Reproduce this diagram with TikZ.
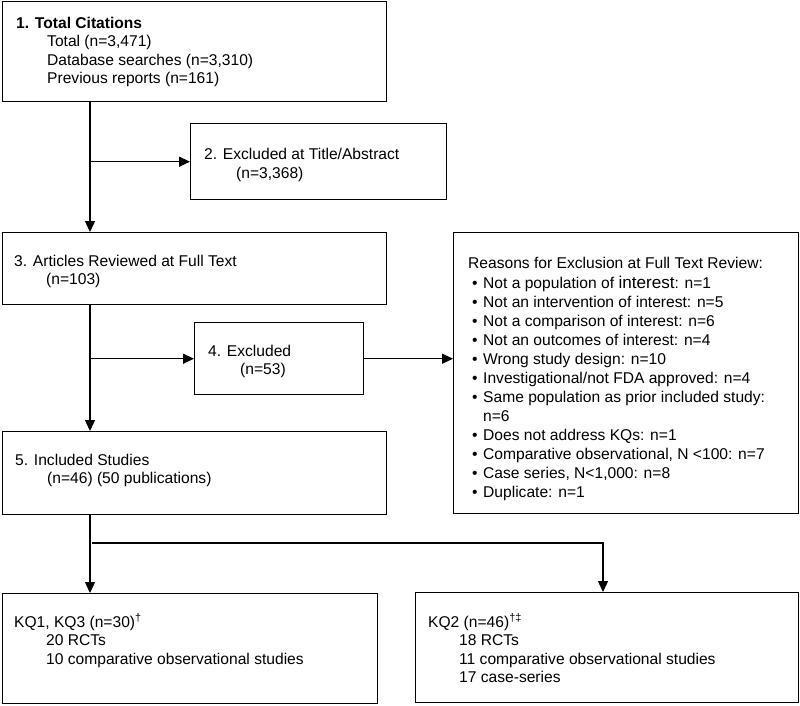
\documentclass[tikz,border=0pt]{standalone}
\usepackage{fontspec}
\setmainfont{Liberation Sans}
\usetikzlibrary{arrows.meta}
\begin{document}
\begin{tikzpicture}[x=1pt,y=-1pt,
  box/.style={draw, line width=1.4pt, inner sep=0pt, anchor=north west},
  txt/.style={anchor=base west, inner sep=0pt, font=\fontsize{15.6}{18}\selectfont},
  arr/.style={line width=1.3pt, -{Triangle[length=11pt,width=10pt]}}]
\useasboundingbox (0,0) rectangle (800,705);
% boxes
\node[box, minimum width=384pt, minimum height=100pt] (b1) at (2,1) {};
\node[box, minimum width=256pt, minimum height=76pt] (b2) at (190,123) {};
\node[box, minimum width=384pt, minimum height=72pt] (b3) at (2,232) {};
\node[box, minimum width=169pt, minimum height=72pt] (b4) at (194,322) {};
\node[box, minimum width=345pt, minimum height=281pt] (r) at (453,232) {};
\node[box, minimum width=384pt, minimum height=83pt] (b5) at (2,431) {};
\node[box, minimum width=375pt, minimum height=110pt] (k1) at (2,593) {};
\node[box, minimum width=383pt, minimum height=110pt] (k2) at (415,592) {};
% connector guide coordinates
\coordinate (vx) at (90,0);
\coordinate (kx) at (603,0);
\coordinate (j) at (92,543);
% connectors
\draw[arr] (b1.south -| vx) -- (b3.north -| vx);
\draw[arr] (b2.west -| vx) -- (b2.west);
\draw[arr] (b3.south -| vx) -- (b5.north -| vx);
\draw[arr] (b4.west -| vx) -- (b4.west);
\draw[arr] (b4.east) -- (b4.east -| r.west);
\draw[arr] (b5.south -| vx) -- (k1.north -| vx);
\draw[arr] (j) -| (k2.north -| kx);
% texts box 1
\node[txt, font=\fontsize{15.6}{18}\selectfont\bfseries] (t1a) at (16,28) {1. Total Citations};
\node[txt] (t1b) at (47,46) {Total (n=3,471)};
\node[txt] (t1c) at (47,65) {Database searches (n=3,310)};
\node[txt] (t1d) at (47,83) {Previous reports (n=161)};
% box 2
\node[txt] (t2a) at (204,159) {2. Excluded at Title/Abstract};
\node[txt] (t2b) at (236,178) {(n=3,368)};
% box 3
\node[txt] (t3a) at (14,266) {3. Articles Reviewed at Full Text};
\node[txt] (t3b) at (46,284) {(n=103)};
% box 4
\node[txt] (t4a) at (208,356) {4. Excluded};
\node[txt] (t4b) at (240,374) {(n=53)};
% box 5
\node[txt] (t5a) at (15,465) {5. Included Studies};
\node[txt] (t5b) at (47,483) {(n=46) (50 publications)};
% reasons
\node[txt] (rt) at (468,268) {Reasons for Exclusion at Full Text Review:};
\foreach \s [count=\i] in {%
  {Not a population of {\fontsize{17.1}{18}\selectfont interest}: n=1},
  {Not an intervention of interest: n=5},
  {Not a comparison of interest: n=6},
  {Not an outcomes of interest: n=4},
  {Wrong study design: n=10},
  {Investigational/not FDA approved: n=4},
  {Same population as prior included study:},
  {},
  {Does not address KQs: n=1},
  {Comparative observational, N <100: n=7},
  {Case series, N<1,000: n=8},
  {Duplicate: n=1}}{
  \ifnum\i=8\relax
    \node[txt] (rl\i) at (483,{288+19*(\i-1)}) {n=6};
  \else
    \node[txt] (rl\i) at (472,{288+19*(\i-1)}) {\makebox[11pt][l]{•}\s};
  \fi
}
% KQ boxes
\node[txt] (k1a) at (14,627) {KQ1, KQ3 (n=30)\textsuperscript{†}};
\node[txt] (k1b) at (46,645) {20 RCTs};
\node[txt] (k1c) at (46,664) {10 comparative observational studies};
\node[txt] (k2a) at (428,627) {KQ2 (n=46)\textsuperscript{†‡}};
\node[txt] (k2b) at (459,645) {18 RCTs};
\node[txt] (k2c) at (459,664) {11 comparative observational studies};
\node[txt] (k2d) at (459,682) {17 case-series};
\end{tikzpicture}
\end{document}
